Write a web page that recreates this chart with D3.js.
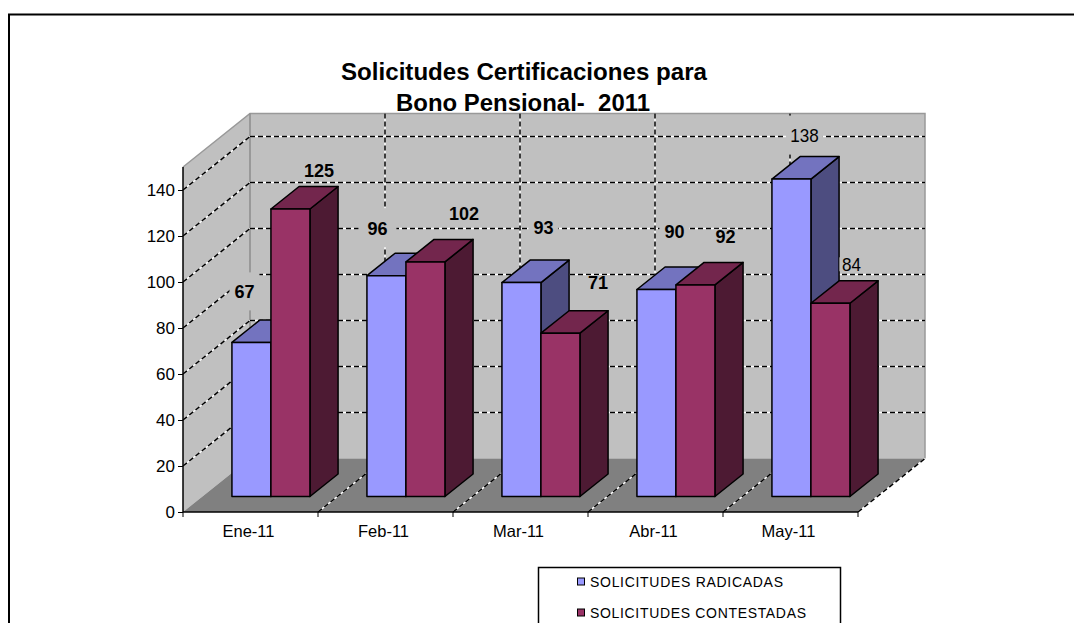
<!DOCTYPE html>
<html><head><meta charset="utf-8">
<script src="https://cdnjs.cloudflare.com/ajax/libs/d3/7.8.5/d3.min.js"></script>
<style>html,body{margin:0;background:#fff}svg{display:block}text{font-family:"Liberation Sans",Arial,sans-serif;fill:#000}</style>
</head><body><svg id="c" width="1074" height="623"></svg>
<script>
const categories=["Ene-11","Feb-11","Mar-11","Abr-11","May-11"];
const seriesNames=["SOLICITUDES RADICADAS","SOLICITUDES CONTESTADAS"];
const radicadas=[67,96,93,90,138];
const contestadas=[125,102,71,92,84];
const yTicks=[0,20,40,60,80,100,120,140];
const titleLines=["Solicitudes Certificaciones para","Bono Pensional-  2011"];
// label nudges from bar top, layout only
const labelNudge=[[[-7,-51],[28.5,-39]],[[-9,-48],[38.5,-49]],[[22,-55],[37.5,-51]],[[18,-58],[30,-49]],[[13,-44],[21,-39]]];
const labelBold=[[1,1],[1,1],[1,1],[1,1],[0,0]];
const labelBox=[[[30,38],[34,14]],[[38,39],[34,14]],[[30,14],[24,14]],[[30,14],[24,14]],[[37,39],[24,14]]];

const svg=d3.select("#c");
const x=d3.scaleBand().domain(categories).range([183,858]);
const y=d3.scaleLinear().domain([0,150]).range([512,167]);
const DX=67,DY=-53.5;
const depth=t=>[DX*t,DY*t];
const line=(a,b,c,d)=>`M${a},${b}L${c},${d}`;
const poly=pts=>"M"+pts.map(p=>p.join(",")).join("L")+"Z";
const g=svg.append("g");

svg.append("path").attr("d","M9,623V14.5H1074").attr("fill","none").attr("stroke","#000").attr("stroke-width",2);

const xL=183,xR=858,y0=y(0),yT=y(150);
g.append("path").attr("d",poly([[xL,y0],[xL,yT],[xL+DX,yT+DY],[xL+DX,y0+DY]])).attr("fill","#C0C0C0");
g.append("path").attr("d",poly([[xL+DX,y0+DY],[xL+DX,yT+DY],[xR+DX,yT+DY],[xR+DX,y0+DY]])).attr("fill","#C0C0C0");
g.append("path").attr("d",poly([[xL,y0],[xL+DX,y0+DY],[xR+DX,y0+DY],[xR,y0]])).attr("fill","#808080");
g.append("path").attr("d",`M${xL},${yT}L${xL+DX},${yT+DY}H${xR+DX}V${y0+DY}`).attr("fill","none").attr("stroke","#999").attr("stroke-width",1.5);
g.append("path").attr("d",`M${xL+DX},${yT+DY}V${y0+DY}`).attr("stroke","#8c8c8c").attr("stroke-width",1.5);

function grid(d){
  g.append("path").attr("d",d).attr("stroke","#fff").attr("stroke-width",1.5).attr("fill","none");
  g.append("path").attr("d",d).attr("stroke","#000").attr("stroke-width",1.5).attr("stroke-dasharray","5,3").attr("fill","none");
}
yTicks.filter(v=>v>0).forEach(v=>{
  grid(line(xL,y(v),xL+DX,y(v)+DY));
  grid(line(xL+DX,y(v)+DY,xR+DX,y(v)+DY));
});
const edges=categories.map(c=>x(c)).concat([xR]);
edges.slice(1).forEach((ex,i)=>{
  grid(line(ex,y0,ex+DX,y0+DY));
  if(i<categories.length-1) grid(line(ex+DX,yT+DY,ex+DX,y0+DY));
});

const bw=x.bandwidth()*39/135;
const D0=0.29,D1=0.71;
const palette=[{f:"#9999FF",t:"#7373BF",s:"#4D4D80"},{f:"#993366",t:"#73264D",s:"#4D1A33"}];
const labels=[];
categories.forEach((c,i)=>{
  [radicadas[i],contestadas[i]].forEach((v,k)=>{
    const [ox,oy]=depth(D0),[fx,fy]=depth(D1-D0);
    const l=x(c)+x.bandwidth()/2-bw+ox+k*bw+1,r=l+bw,b=y(0)+oy,t=y(v)+oy;
    const col=palette[k];
    const st=sel=>sel.attr("stroke","#000").attr("stroke-width",1.5).attr("stroke-linejoin","round");
    g.append("path").attr("d",poly([[r,b],[r,t],[r+fx,t+fy],[r+fx,b+fy]])).attr("fill",col.s).call(st);
    g.append("path").attr("d",poly([[l,t],[l+fx,t+fy],[r+fx,t+fy],[r,t]])).attr("fill",col.t).call(st);
    g.append("path").attr("d",poly([[l,b],[l,t],[r,t],[r,b]])).attr("fill",col.f).call(st);
    labels.push({v,bx:(l+r)/2,by:t,n:labelNudge[i][k],bold:labelBold[i][k],box:labelBox[i][k]});
  });
});
labels.forEach(d=>{
  if(d.box[1]>20){ // only tall boxes break the wall grid behind bars: draw below bars is not possible here, so clip to wall tone
    g.append("rect").attr("x",d.bx+d.n[0]-d.box[0]/2).attr("y",d.by+d.n[1]-d.box[1]/2).attr("width",d.box[0]).attr("height",d.box[1]).attr("fill","#C0C0C0");
  } else {
    g.append("rect").attr("x",d.bx+d.n[0]-d.box[0]/2).attr("y",d.by+d.n[1]-d.box[1]/2).attr("width",d.box[0]).attr("height",d.box[1]).attr("fill","#C0C0C0");
  }
});
labels.forEach(d=>{
  g.append("text").attr("transform",`translate(${d.bx+d.n[0]},${d.by+d.n[1]}) scale(0.95,1)`).attr("text-anchor","middle").attr("dy","0.36em")
    .attr("font-size",d.bold?19:18).attr("font-weight",d.bold?"bold":"normal").text(d.v);
});

const axL=d3.axisLeft(y).tickValues(yTicks).tickSize(5).tickPadding(3);
const gy=svg.append("g").attr("transform",`translate(${xL},0)`).call(axL);
gy.select(".domain").attr("d",`M0,${yT}V${y0}`).attr("stroke","#000").attr("stroke-width",1.5);
gy.selectAll("line").attr("stroke","#000");
gy.selectAll("text").attr("font-size",17).attr("font-family","Liberation Sans");

const axB=d3.axisBottom(x).tickSize(0).tickPadding(13);
const gx=svg.append("g").attr("transform",`translate(0,${y0})`).call(axB);
gx.select(".domain").attr("d",`M${xL},0H${xR}`).attr("stroke","#000").attr("stroke-width",1.5);
gx.selectAll("text").attr("font-size",16.5).attr("font-family","Liberation Sans").attr("dx",-2);
edges.forEach(ex=>gx.append("line").attr("x1",ex).attr("x2",ex).attr("y1",0).attr("y2",5).attr("stroke","#000"));

const tt=[[341,366,80],[396,254,111]];
titleLines.forEach((t,i)=>svg.append("text").attr("x",tt[i][0]).attr("y",tt[i][2]).attr("font-size",24).attr("font-weight","bold")
  .attr("textLength",tt[i][1]).attr("lengthAdjust","spacingAndGlyphs").style("white-space","pre").text(t));

svg.append("rect").attr("x",538.5).attr("y",567.5).attr("width",302).attr("height",70).attr("fill","#fff").attr("stroke","#000").attr("stroke-width",1.5);
const lw=[193,216];
seriesNames.forEach((n,i)=>{
  const ly=581.5+i*31;
  svg.append("rect").attr("x",577.5).attr("y",ly-3.5).attr("width",7).attr("height",7).attr("fill",palette[i].f).attr("stroke","#000");
  svg.append("text").attr("x",590).attr("y",ly+5).attr("font-size",14).attr("textLength",lw[i]).attr("lengthAdjust","spacing").text(n);
});
</script></body></html>
